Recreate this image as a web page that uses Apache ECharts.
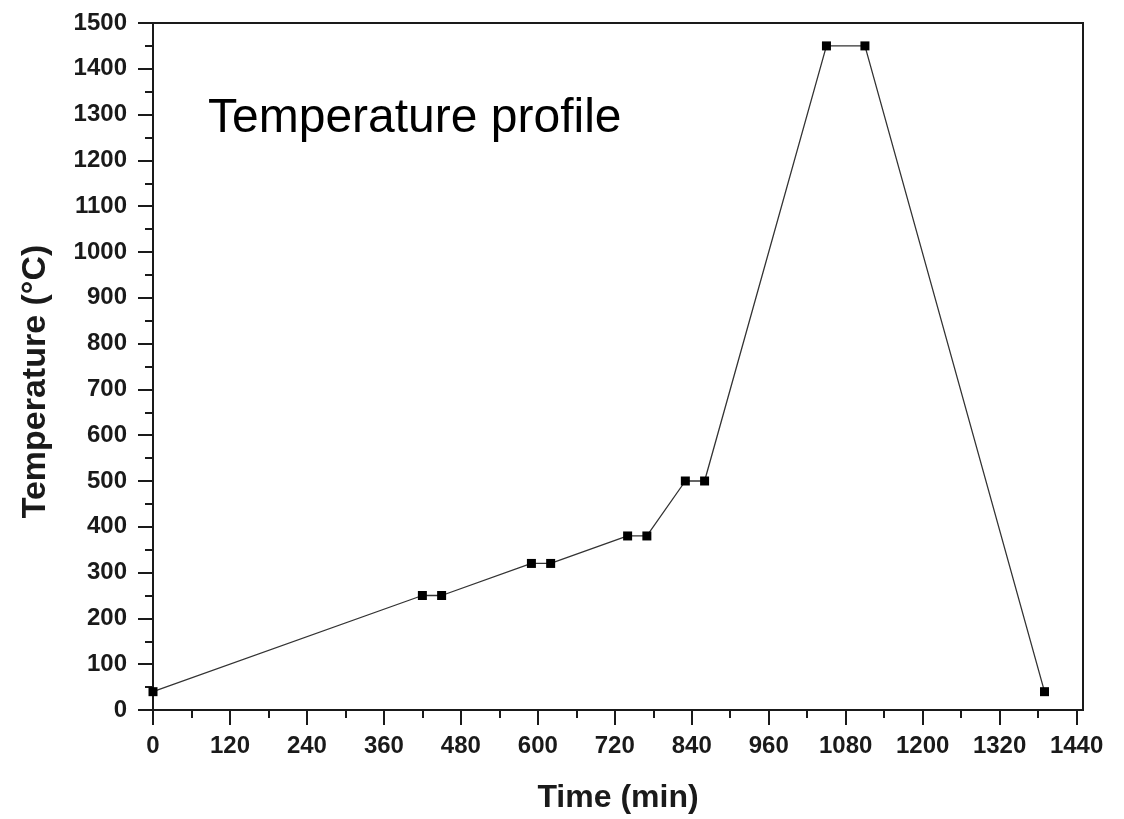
<!DOCTYPE html>
<html>
<head>
<meta charset="utf-8">
<script src="https://cdn.jsdelivr.net/npm/echarts@6/dist/echarts.min.js"></script>
<style>
  html, body { margin: 0; padding: 0; background: #fff; }
  #chart { width: 1124px; height: 819px; }
</style>
</head>
<body>
<div id="chart"></div>
<script>
// time (min) and temperature (°C)
var times = [0, 420, 450, 590, 620, 740, 770, 830, 860, 1050, 1110, 1390];
var temps = [40, 250, 250, 320, 320, 380, 380, 500, 500, 1450, 1450, 40];

var xMajorTicks = [0, 120, 240, 360, 480, 600, 720, 840, 960, 1080, 1200, 1320, 1440];
var xMinorTicks = [60, 180, 300, 420, 540, 660, 780, 900, 1020, 1140, 1260, 1380];

var chart = echarts.init(document.getElementById('chart'));
var font = 'Liberation Sans, Arial, sans-serif';
var ink = '#1a1a1a';

function plain(v) { return String(v); }

var option = {
    backgroundColor: '#fff',
    animation: false,
    title: {
        text: 'Temperature profile',
        left: 203,
        top: 90,
        textStyle: { fontFamily: font, fontSize: 48, fontWeight: 'normal', color: '#000' }
    },
    grid: {
        left: 153, top: 23, right: 41, bottom: 107,
        show: true, borderColor: ink, borderWidth: 2
    },
    xAxis: [
        {
            type: 'value',
            min: 0,
            max: 1450,
            name: 'Time (min)',
            nameLocation: 'middle',
            nameGap: 72,
            nameTextStyle: { fontFamily: font, fontSize: 32, fontWeight: 'bold', color: ink },
            axisLine: { show: true, lineStyle: { color: ink, width: 2 } },
            axisTick: { show: true, length: 15, customValues: xMajorTicks, lineStyle: { color: ink, width: 2 } },
            axisLabel: {
                customValues: xMajorTicks,
                formatter: plain,
                margin: 24,
                fontFamily: font, fontSize: 24, fontWeight: 'bold', color: ink
            },
            splitLine: { show: false }
        },
        {
            type: 'value',
            min: 0,
            max: 1450,
            position: 'bottom',
            axisLine: { show: false },
            axisTick: { show: true, length: 8, customValues: xMinorTicks, lineStyle: { color: ink, width: 2 } },
            axisLabel: { show: false },
            splitLine: { show: false }
        }
    ],
    yAxis: {
        type: 'value',
        min: 0,
        max: 1500,
        interval: 100,
        name: 'Temperature (°C)',
        nameLocation: 'middle',
        nameGap: 100,
        nameTextStyle: { fontFamily: font, fontSize: 34, fontWeight: 'bold', color: ink, padding: [0, 30, 0, 0] },
        axisLine: { show: true, lineStyle: { color: ink, width: 2 } },
        axisTick: { show: true, length: 15, lineStyle: { color: ink, width: 2 } },
        minorTick: { show: true, splitNumber: 2, length: 8, lineStyle: { color: ink, width: 2 } },
        axisLabel: { formatter: plain, margin: 26, fontFamily: font, fontSize: 24, fontWeight: 'bold', color: ink },
        splitLine: { show: false }
    },
    series: [{
        type: 'line',
        data: times.map(function (t, i) { return [t, temps[i]]; }),
        symbol: 'rect',
        symbolSize: 9,
        itemStyle: { color: '#000' },
        lineStyle: { color: '#333', width: 1.3 }
    }]
};

chart.setOption(option);
</script>
</body>
</html>
